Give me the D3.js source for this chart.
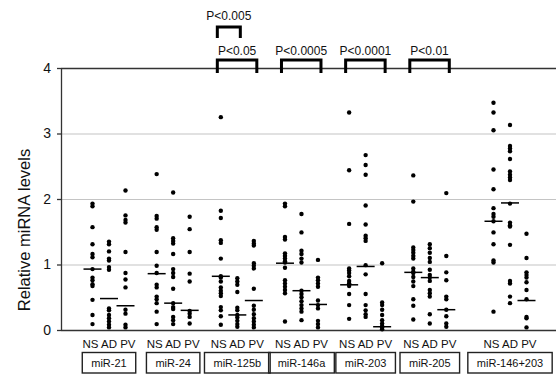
<!DOCTYPE html>
<html>
<head>
<meta charset="utf-8">
<script src="https://cdn.jsdelivr.net/npm/d3@7"></script>
<style>
  body { margin: 0; background: #fff; }
  svg { display: block; font-family: "Liberation Sans", Arial, sans-serif; }
</style>
</head>
<body>
<svg id="chart" width="556" height="377"></svg>
<script>
const groups = ['miR-21', 'miR-24', 'miR-125b', 'miR-146a', 'miR-203', 'miR-205', 'miR-146+203'];
const conditions = ['NS', 'AD', 'PV'];
const yTicks = [0, 1, 2, 3, 4];

// dots per group, per condition (NS, AD, PV)
const mir21 = [
    [1.93, 1.89, 1.57, 1.31, 1.16, 1.11, 0.93, 0.80, 0.76, 0.70, 0.67, 0.46, 0.23, 0.09],
    [1.35, 1.31, 1.20, 1.09, 1.06, 0.96, 0.92, 0.33, 0.30, 0.23, 0.18, 0.13, 0.08, 0.04],
    [2.13, 1.75, 1.68, 1.64, 1.19, 0.87, 0.77, 0.65, 0.31, 0.25, 0.08, 0.04]
];
const mir24 = [
    [2.38, 1.74, 1.70, 1.57, 1.53, 1.19, 0.98, 0.87, 0.69, 0.65, 0.51, 0.47, 0.41, 0.28, 0.09],
    [2.10, 1.40, 1.36, 1.32, 1.16, 0.93, 0.87, 0.81, 0.63, 0.41, 0.35, 0.32, 0.20, 0.15, 0.09],
    [1.73, 1.54, 1.19, 0.86, 0.74, 0.29, 0.25, 0.20, 0.10]
];
const mir125b = [
    [3.25, 1.82, 1.71, 1.37, 1.33, 1.09, 0.82, 0.80, 0.74, 0.65, 0.60, 0.56, 0.52, 0.35, 0.30, 0.21, 0.08],
    [0.79, 0.74, 0.69, 0.58, 0.34, 0.30, 0.23, 0.19, 0.14, 0.09, 0.05],
    [1.36, 1.32, 1.29, 1.02, 0.98, 0.94, 0.63, 0.37, 0.31, 0.24, 0.18, 0.13, 0.08, 0.04]
];
const mir146a = [
    [1.93, 1.89, 1.42, 1.38, 1.17, 1.13, 1.09, 1.05, 1.03, 0.95, 0.76, 0.71, 0.66, 0.61, 0.56, 0.13],
    [1.77, 1.49, 1.21, 1.16, 1.09, 1.03, 0.60, 0.55, 0.50, 0.44, 0.38, 0.33, 0.28, 0.15],
    [1.07, 0.80, 0.76, 0.71, 0.66, 0.45, 0.38, 0.33, 0.14, 0.09, 0.04]
];
const mir203 = [
    [3.32, 2.44, 1.62, 0.94, 0.91, 0.87, 0.82, 0.75, 0.71, 0.70, 0.67, 0.55, 0.38, 0.17],
    [2.67, 2.52, 2.37, 1.90, 1.61, 1.44, 1.40, 1.36, 0.99, 0.85, 0.55, 0.38, 0.30, 0.24, 0.20],
    [1.02, 0.42, 0.38, 0.31, 0.23, 0.15, 0.10, 0.06, 0.04, 0.01]
];
const mir205 = [
    [2.36, 1.96, 1.26, 1.22, 1.18, 1.13, 1.09, 0.94, 0.89, 0.87, 0.81, 0.74, 0.67, 0.47, 0.37, 0.16],
    [1.31, 1.25, 1.18, 1.10, 1.04, 0.92, 0.84, 0.80, 0.75, 0.61, 0.56, 0.51, 0.24, 0.10],
    [2.09, 1.13, 0.88, 0.76, 0.51, 0.47, 0.31, 0.21, 0.10, 0.05]
];
const mir146and203 = [
    [3.47, 3.32, 3.05, 2.45, 2.15, 1.86, 1.77, 1.73, 1.66, 1.49, 1.31, 1.06, 1.03, 0.28],
    [3.13, 2.81, 2.77, 2.73, 2.61, 2.42, 2.37, 2.33, 2.29, 1.93, 1.64, 1.60, 1.58, 1.30, 0.75, 0.71, 0.51, 0.41],
    [1.47, 1.10, 0.88, 0.84, 0.80, 0.73, 0.61, 0.47, 0.20, 0.18, 0.04]
];
const values = [mir21, mir24, mir125b, mir146a, mir203, mir205, mir146and203];

// median bars (NS, AD, PV)
const medians = [
    [0.93, 0.48, 0.37],
    [0.86, 0.41, 0.30],
    [0.82, 0.23, 0.45],
    [1.02, 0.60, 0.39],
    [0.69, 0.97, 0.05],
    [0.88, 0.80, 0.31],
    [1.66, 1.94, 0.45]
];

// significance brackets
const pGroups = ['miR-125b', 'miR-125b', 'miR-146a', 'miR-203', 'miR-205'];
const pFrom = ['NS', 'NS', 'NS', 'NS', 'NS'];
const pTo = ['PV', 'AD', 'PV', 'PV', 'PV'];
const pLabels = ['P<0.05', 'P<0.005', 'P<0.0005', 'P<0.0001', 'P<0.01'];
const pLevels = [0, 1, 0, 0, 0];

const svg = d3.select('#chart');
const plotLeft = 61, plotRight = 556;

const y = d3.scaleLinear().domain([0, 4]).range([330, 68]);
// last group sits a little further right
const slot = i => (i < 6 ? i : 6.25);
const xGroup = d3.scaleLinear().domain([0, 6.25]).range([109, 510]);
const xCond = d3.scalePoint().domain(conditions).range([-16.5, 16.5]);
const xPos = (gi, c) => xGroup(slot(gi)) + xCond(c);

// gridlines
svg.append('g')
    .selectAll('line')
    .data(yTicks)
    .enter()
    .append('line')
    .attr('x1', plotLeft)
    .attr('x2', plotRight)
    .attr('y1', d => y(d) + 0.5)
    .attr('y2', d => y(d) + 0.5)
    .attr('stroke', d => (d === 0 || d === 4 ? '#333' : '#c4c4c4'))
    .attr('stroke-width', d => (d === 0 || d === 4 ? 1.3 : 1.2));

// y axis
const yAxis = svg.append('g')
    .attr('transform', `translate(${plotLeft},0)`)
    .call(d3.axisLeft(y).tickValues(yTicks).tickSize(4).tickSizeOuter(0).tickFormat(d3.format('d')));
yAxis.select('.domain').attr('stroke', '#333').attr('stroke-width', 1.3);
yAxis.selectAll('.tick line').attr('stroke', '#333').attr('stroke-width', 1.3);
yAxis.selectAll('.tick text')
    .attr('x', -10)
    .style('font-size', '14px')
    .attr('fill', '#111');

svg.append('text')
    .attr('transform', 'translate(30,230) rotate(-90)')
    .attr('text-anchor', 'middle')
    .style('font-size', '16.5px')
    .attr('fill', '#111')
    .text('Relative miRNA levels');

// dots
const dots = svg.append('g');
values.forEach((byCond, gi) => {
    byCond.forEach((arr, ci) => {
        dots.selectAll(null)
            .data(arr)
            .enter()
            .append('circle')
            .attr('cx', xPos(gi, conditions[ci]))
            .attr('cy', d => y(d))
            .attr('r', 2.2)
            .attr('fill', '#000');
    });
});

// median bars
medians.forEach((row, gi) => {
    svg.append('g')
        .selectAll('line')
        .data(row)
        .enter()
        .append('line')
        .attr('x1', (d, ci) => xPos(gi, conditions[ci]) - 9)
        .attr('x2', (d, ci) => xPos(gi, conditions[ci]) + 9)
        .attr('y1', d => y(d))
        .attr('y2', d => y(d))
        .attr('stroke', '#000')
        .attr('stroke-width', 1.5);
});

// condition labels + boxed group names
groups.forEach((g, gi) => {
    const cx = xGroup(slot(gi));
    svg.append('text')
        .attr('x', cx)
        .attr('y', 348)
        .attr('text-anchor', 'middle')
        .style('font-size', '11.5px')
        .attr('fill', '#111')
        .text(conditions.join(' '));
    const label = svg.append('text')
        .attr('x', cx)
        .attr('y', 367)
        .attr('text-anchor', 'middle')
        .style('font-size', '11px')
        .attr('fill', '#111')
        .text(g);
    const w = label.node().getComputedTextLength() + 18;
    svg.append('rect')
        .attr('x', cx - w / 2)
        .attr('y', 352.5)
        .attr('width', w)
        .attr('height', 20.5)
        .attr('fill', 'none')
        .attr('stroke', '#222')
        .attr('stroke-width', 1.4);
});

// p-value brackets
const bracketTop = [60, 27];
const bracketLeg = [13, 11];
const labelY = [55, 20];
pLabels.forEach((lab, i) => {
    const gi = groups.indexOf(pGroups[i]);
    const x1 = xPos(gi, pFrom[i]) - 3.5;
    const x2 = xPos(gi, pTo[i]) + 3;
    const top = bracketTop[pLevels[i]];
    svg.append('path')
        .attr('d', `M${x1},${top + bracketLeg[pLevels[i]]}V${top}H${x2}V${top + bracketLeg[pLevels[i]]}`)
        .attr('fill', 'none')
        .attr('stroke', '#000')
        .attr('stroke-width', 3);
    svg.append('text')
        .attr('x', (x1 + x2) / 2)
        .attr('y', labelY[pLevels[i]])
        .attr('text-anchor', 'middle')
        .style('font-size', '12px')
        .attr('fill', '#111')
        .text(lab);
});
</script>
</body>
</html>
